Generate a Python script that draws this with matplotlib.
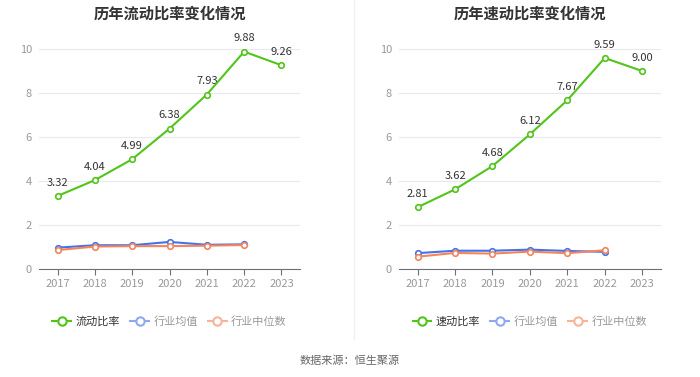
import matplotlib.pyplot as plt
import numpy as np

plt.rcParams['font.family'] = ['Noto Sans CJK SC', 'DejaVu Sans']

years = ['2017', '2018', '2019', '2020', '2021', '2022', '2023']

# 流动比率
cur_ratio = [3.32, 4.04, 4.99, 6.38, 7.93, 9.88, 9.26]
cur_avg = [0.97, 1.08, 1.08, 1.23, 1.10, 1.12]
cur_med = [0.86, 1.02, 1.04, 1.04, 1.06, 1.09]

# 速动比率
quick_ratio = [2.81, 3.62, 4.68, 6.12, 7.67, 9.59, 9.00]
quick_avg = [0.72, 0.83, 0.83, 0.88, 0.82, 0.78]
quick_med = [0.56, 0.73, 0.70, 0.79, 0.72, 0.85]

titles = ['历年流动比率变化情况', '历年速动比率变化情况']
main_labels = ['流动比率', '速动比率']

green = '#52c41a'
blue = '#4472e8'
orange = '#f5845c'

fig = plt.figure(figsize=(7, 3.77), dpi=100)
ax1 = fig.add_axes([0.0557, 0.2865, 0.373, 0.5836])
ax2 = fig.add_axes([0.570, 0.2865, 0.374, 0.5836])

datasets = [(cur_ratio, cur_avg, cur_med), (quick_ratio, quick_avg, quick_med)]

for k, ax in enumerate([ax1, ax2]):
    main, avg, med = datasets[k]
    x = np.arange(len(years))
    ax.plot(x, main, color=green, lw=1.5, marker='o', ms=4,
            mfc='white', mec=green, mew=1.2, zorder=5)
    ax.plot(x[:len(avg)], avg, color=blue, lw=1.5, marker='o', ms=4,
            mfc='white', mec=blue, mew=1.2, zorder=4)
    ax.plot(x[:len(med)], med, color=orange, lw=1.5, marker='o', ms=4,
            mfc='white', mec=orange, mew=1.2, zorder=4)
    for i, v in enumerate(main):
        ax.annotate('%.2f' % v, (x[i], v), xytext=(0, 6), textcoords='offset points',
                    ha='center', va='bottom', fontsize=8, color='#333333')

    ax.set_xlim(-0.5, 6.5)
    ax.set_ylim(0, 10)
    ax.set_yticks([0, 2, 4, 6, 8, 10])
    ax.set_xticks(x)
    ax.set_xticklabels(years)
    ax.grid(axis='y', color='#e6e9f0', lw=0.8)
    ax.set_axisbelow(True)
    for s in ['top', 'right', 'left']:
        ax.spines[s].set_visible(False)
    ax.spines['bottom'].set_color('#6e7079')
    ax.tick_params(axis='y', length=0, colors='#999999', labelsize=8, pad=5)
    ax.tick_params(axis='x', length=4, color='#6e7079', colors='#999999', labelsize=8)
    ax.set_title(titles[k], fontsize=11, fontweight='bold', color='#333333', pad=22)

    # legend proxies
    p1, = ax.plot([], [], color=green, lw=1.5, marker='o', ms=6, mfc='white', mec=green, mew=1.5)
    p2, = ax.plot([], [], color='#8fa9f0', lw=1.5, marker='o', ms=6, mfc='white', mec='#8fa9f0', mew=1.5)
    p3, = ax.plot([], [], color='#f8b49a', lw=1.5, marker='o', ms=6, mfc='white', mec='#f8b49a', mew=1.5)
    leg = ax.legend([p1, p2, p3], [main_labels[k], '行业均值', '行业中位数'],
                    loc='upper center', bbox_to_anchor=(0.5, -0.17), ncol=3,
                    frameon=False, fontsize=8, handlelength=1.7, handletextpad=0.4,
                    columnspacing=0.9)
    cols = ['#333333', '#999999', '#999999']
    for t, c in zip(leg.get_texts(), cols):
        t.set_color(c)

# divider
fig.add_artist(plt.Line2D([0.505, 0.505], [0.1, 1.0], color='#f0f0f0', lw=1))

fig.text(0.5, 0.042, '数据来源：恒生聚源', ha='center', va='center', fontsize=8, color='#666666')

fig.savefig('out.png', dpi=100)
